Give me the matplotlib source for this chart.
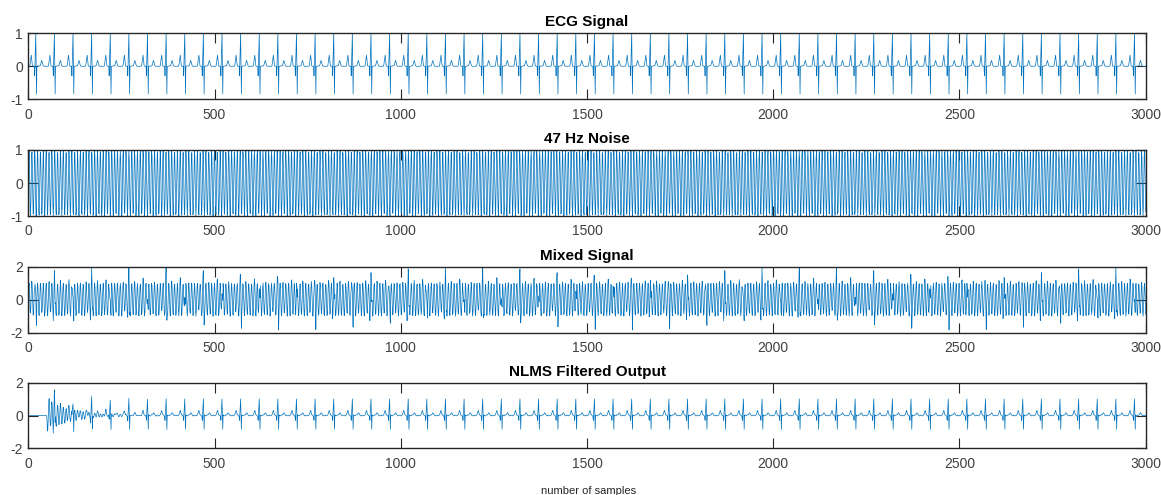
import numpy as np
import matplotlib.pyplot as plt

plt.rcParams['font.family'] = ['Liberation Sans', 'DejaVu Sans']
plt.rcParams['axes.unicode_minus'] = False

# one heartbeat, 50 samples (P, Q, R, S, T template)
ecg_beat = [0.0, 0.003, 0.006, 0.008, 0.091, 0.174, 0.256, 0.339, 0.229, 0.119,
            0.008, 0.007, 0.005, 0.003, 0.002, 0.0, -0.288, 0.141, 0.571, 1.0,
            0.080, -0.839, 0.0, 0.002, 0.004, 0.006, 0.008, 0.009, 0.011, 0.013,
            0.015, 0.017, 0.057, 0.097, 0.138, 0.178, 0.138, 0.097, 0.057, 0.017,
            0.008, 0.0, 0.0, 0.0, 0.0, 0.0, 0.0, 0.0, 0.0, 0.0]
n_beats = 60
fs = 360          # sampling rate (Hz)
noise_freq = 47   # interference (Hz)
noise_amp = 1.0
filt_order = 50
step_size = 0.03

titles = ['ECG Signal', '47 Hz Noise', 'Mixed Signal', 'NLMS Filtered Output']
ylims = [(-1, 1), (-1, 1), (-2, 2), (-2, 2)]
yticks = [[-1, 0, 1], [-1, 0, 1], [-2, 0, 2], [-2, 0, 2]]
xticks = [0, 500, 1000, 1500, 2000, 2500, 3000]


def nlms(d, x, M, mu):
    N = len(d)
    w = np.zeros(M)
    e = np.zeros(N)
    for n in range(M - 1, N):
        u = x[n - M + 1:n + 1][::-1]
        e[n] = d[n] - w @ u
        w = w + mu * e[n] * u / (1e-6 + u @ u)
    return e


ecg = np.tile(ecg_beat, n_beats)
N = len(ecg)
n = np.arange(1, N + 1)
noise = noise_amp * np.sin(2 * np.pi * noise_freq * n / fs)
mixed = ecg + noise
out = nlms(mixed, noise, filt_order, step_size)

fig = plt.figure(figsize=(11.61, 4.95), dpi=100)
# axes boxes in figure fractions (left, bottom, width, height)
boxes = [[0.0244, 0.7994, 0.9624, 0.1333],
         [0.0244, 0.5636, 0.9624, 0.1334],
         [0.0244, 0.3279, 0.9624, 0.1333],
         [0.0244, 0.0943, 0.9624, 0.1326]]
series = [ecg, noise, mixed, out]

for i in range(4):
    ax = fig.add_axes(boxes[i])
    ax.plot(n, series[i], color='#0072BD', linewidth=0.5)
    ax.set_xlim(0, 3000)
    ax.set_ylim(*ylims[i])
    ax.set_xticks(xticks)
    ax.set_yticks(yticks[i])
    ax.tick_params(direction='in', length=7, width=0.8, colors='#262626',
                   labelsize=10, top=True, right=True)
    ax.tick_params(labelcolor='#404040')
    ax.tick_params(axis='x', pad=6)
    ax.tick_params(axis='y', pad=4)
    for s in ax.spines.values():
        s.set_color('#262626')
        s.set_linewidth(1.0)
    ax.set_title(titles[i], fontsize=11, fontweight='bold', pad=5)

fig.text(0.5068, 0.009, 'number of samples', ha='center', va='center',
         fontsize=8, color='#262626')

fig.savefig('out.png', dpi=100)
